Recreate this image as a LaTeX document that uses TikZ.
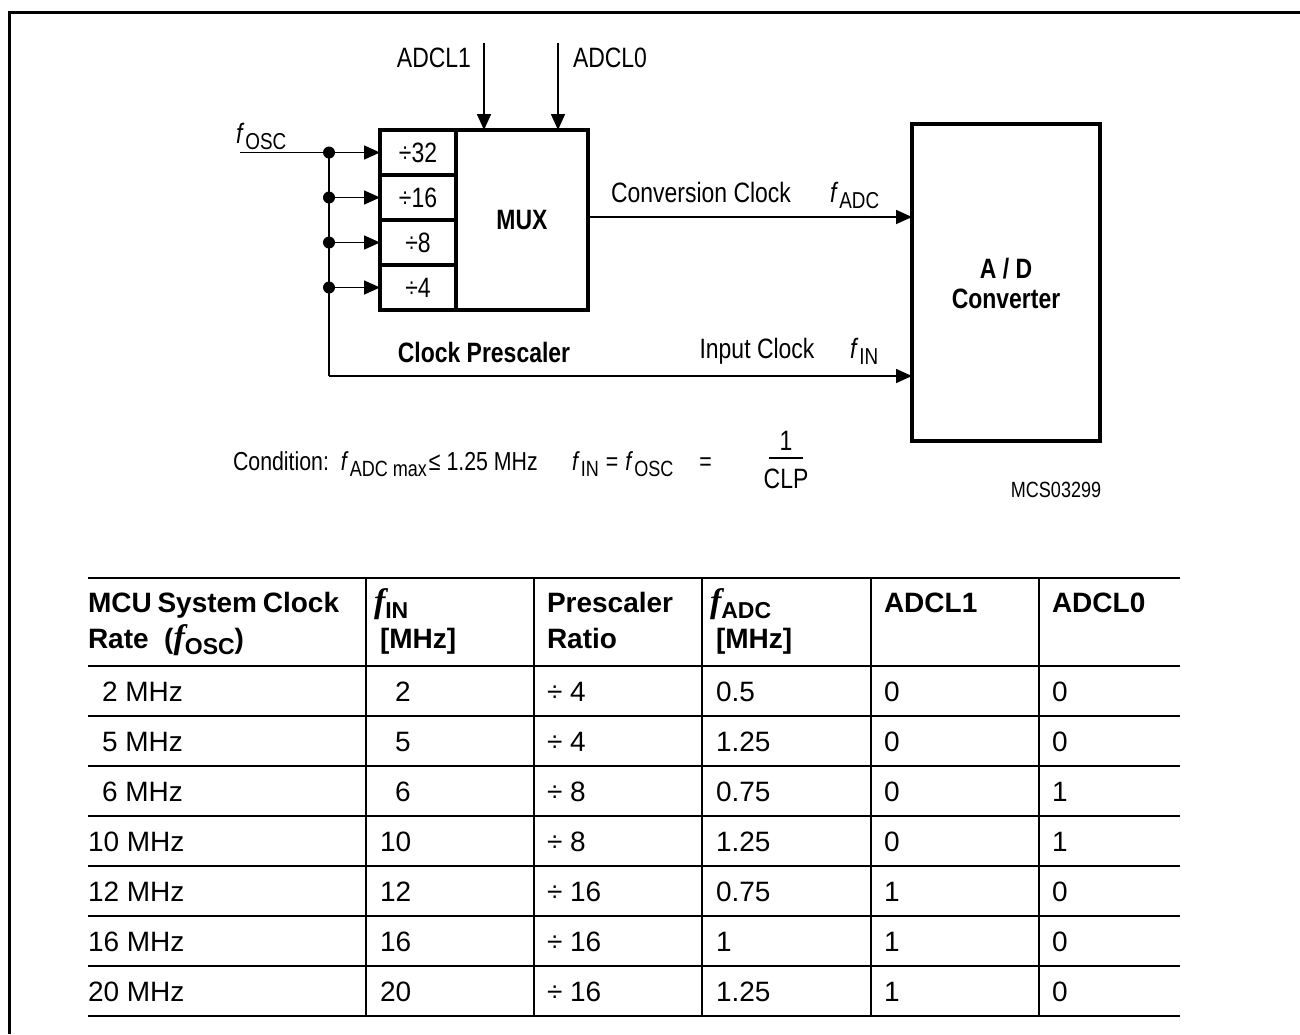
\documentclass[tikz,border=0pt]{standalone}
\usepackage{fontspec}
\setmainfont{Liberation Sans}
\newfontfamily\narrow[FakeStretch=0.82]{Liberation Sans}
\newfontfamily\serifit{Liberation Serif Italic}
\usetikzlibrary{arrows.meta}
\newcommand{\dsz}{\narrow\fontsize{28}{32}\selectfont}
\newcommand{\csz}{\narrow\fontsize{26}{30}\selectfont}
\newcommand{\dsub}[2]{{\itshape #1}\hspace{3pt}\raisebox{-6pt}{\fontsize{23}{26}\selectfont #2}}
\newcommand{\csub}[2]{{\itshape #1}\hspace{3pt}\raisebox{-6pt}{\fontsize{22}{24}\selectfont #2}}
\newcommand{\tsub}[1]{{\serifit\fontsize{34}{34}\selectfont f}\raisebox{-6pt}{\bfseries\fontsize{23}{24}\selectfont #1}}
\tikzset{
  every node/.style={inner sep=0pt, outer sep=0pt},
  dtxt/.style={font=\dsz},
  ctxt/.style={font=\csz, anchor=base west},
  dbold/.style={font=\dsz\bfseries},
  ttxt/.style={font=\fontsize{28}{32}\selectfont, anchor=base west},
  thead/.style={font=\fontsize{28}{32}\selectfont\bfseries, anchor=base west},
  cell/.style={draw, line width=4pt, minimum width=76pt, minimum height=45pt, anchor=north west, font=\dsz},
  arr/.style={line width=1.6pt, -{Triangle[length=16pt,width=14pt]}},
  wire/.style={line width=1.6pt},
  dot/.style={circle, fill, minimum size=12pt},
  tline/.style={line width=1.6pt}
}
\begin{document}
\begin{tikzpicture}[x=1pt,y=-1pt]
\useasboundingbox (0,0) rectangle (1300,1034);
% frame
\draw[line width=3pt] (9,1034) -- (9,12) -- (1300,12);

% prescaler cells and mux
\node[cell] (d32) at (380,130) {÷32};
\node[cell] (d16) at (380,175) {÷16};
\node[cell] (d8)  at (380,220) {÷8};
\node[cell] (d4)  at (380,265) {÷4};
\node[draw, line width=4pt, minimum width=132pt, minimum height=180pt, anchor=north west, font=\dsz\bfseries] (mux) at (456,130) {MUX};
\node[draw, line width=4pt, minimum width=188pt, minimum height=317pt, anchor=north west] (ad) at (912,124) {};
\node[dbold, anchor=base] (adt) at (1006,278) {A / D};
\node[dbold, anchor=base] (adt2) at (1006,308) {Converter};

% fosc input and junctions
\coordinate (in) at (240,152.5);
\node[dot] (j1) at (329,152.5) {};
\node[dot] (j2) at (329,197.5) {};
\node[dot] (j3) at (329,242.5) {};
\node[dot] (j4) at (329,287.5) {};
\coordinate (jc) at (329,376);
\draw[wire] (in) -- (j1.center);
\draw[wire] (j1.center) -- (jc);
\draw[arr] (j1.center) -- (d32.west);
\draw[arr] (j2.center) -- (d16.west);
\draw[arr] (j3.center) -- (d8.west);
\draw[arr] (j4.center) -- (d4.west);
\draw[arr] (jc) -- (jc -| ad.west);
\node[dtxt, anchor=base west] (fosc) at (236,143) {\dsub{f}{OSC}};

% ADCL inputs
\coordinate (a1) at (484,43);
\coordinate (a0) at (558,43);
\draw[arr] (a1) -- (a1 |- mux.north);
\draw[arr] (a0) -- (a0 |- mux.north);
\node[dtxt, anchor=base east] (l1) at (471,67) {ADCL1};
\node[dtxt, anchor=base west] (l0) at (573,67) {ADCL0};

% conversion clock
\coordinate (mc) at (588,217);
\draw[arr] (mc) -- (mc -| ad.west);
\node[dtxt, anchor=base] (cc) at (701,202) {Conversion Clock};
\node[dtxt, anchor=base west] (fadc) at (830,202) {\dsub{f}{ADC}};

% input clock
\node[dtxt, anchor=base] (ic) at (757,358) {Input Clock};
\node[dtxt, anchor=base west] (fin) at (850,358) {\dsub{f}{IN}};
\node[dbold, anchor=base] (cp) at (484,362) {Clock Prescaler};

% condition
\node[ctxt] (cond) at (233,470) {Condition:\ \ \csub{f}{ADC max}\hspace{2pt}≤ 1.25 MHz};
\node[ctxt] (ceq) at (572,470) {\csub{f}{IN}\hspace{7pt}=\hspace{7pt}\csub{f}{OSC}\hspace{26pt}=};
\node[dtxt, anchor=base] (one) at (786,450) {1};
\node[dtxt, anchor=base] (clp) at (786,488) {CLP};
\draw[line width=1.4pt] (769,458) -- (803,458);
\node[font=\narrow\fontsize{22}{24}\selectfont, anchor=base] (mcs) at (1056,497) {MCS03299};

% table lines
\foreach \y in {578,666,716,766,816,866,916,966,1016}
  \draw[tline] (88,\y) -- (1180,\y);
\foreach \x in {366,534,702,871,1039}
  \draw[tline] (\x,578) -- (\x,1016);

% header
\node[thead] (h1a) at (88,612) {MCU\hspace{-2pt} System\hspace{-2pt} Clock};
\node[thead] (h1b) at (88,648) {Rate\ \ (\tsub{OSC})};
\node[thead] (h2a) at (374,612) {\tsub{IN}};
\node[thead] (h2b) at (380,648) {[MHz]};
\node[thead] (h3a) at (547,612) {Prescaler};
\node[thead] (h3b) at (547,648) {Ratio};
\node[thead] (h4a) at (710,612) {\tsub{ADC}};
\node[thead] (h4b) at (716,648) {[MHz]};
\node[thead] (h5) at (884,612) {ADCL1};
\node[thead] (h6) at (1052,612) {ADCL0};

% data rows
\foreach [count=\i from 0] \a/\b/\c/\d/\e/\f/\ia/\ib in {
  2 MHz/2/4/0.5/0/0/14/15,
  5 MHz/5/4/1.25/0/0/14/15,
  6 MHz/6/8/0.75/0/1/14/15,
  10 MHz/10/8/1.25/0/1/0/0,
  12 MHz/12/16/0.75/1/0/0/0,
  16 MHz/16/16/1/1/0/0/0,
  20 MHz/20/16/1.25/1/0/0/0}{
  \node[ttxt] (r\i a) at (88+\ia,701+50*\i) {\a};
  \node[ttxt] (r\i b) at (380+\ib,701+50*\i) {\b};
  \node[ttxt] (r\i c) at (547,701+50*\i) {÷ \c};
  \node[ttxt] (r\i d) at (716,701+50*\i) {\d};
  \node[ttxt] (r\i e) at (884,701+50*\i) {\e};
  \node[ttxt] (r\i f) at (1052,701+50*\i) {\f};
}
\end{tikzpicture}
\end{document}
